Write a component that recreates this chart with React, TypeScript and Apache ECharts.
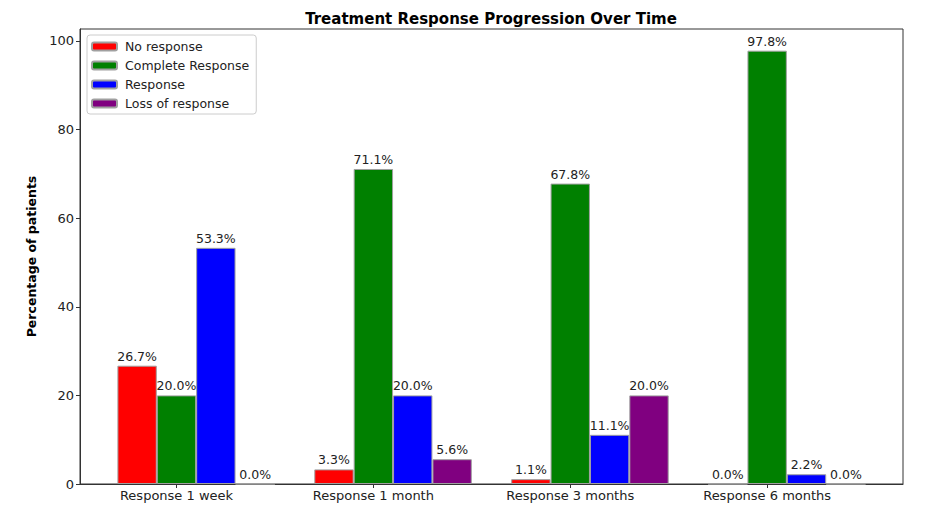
import React, { useEffect, useRef } from "react";
import * as echarts from "echarts";

const categories = ["Response 1 week", "Response 1 month", "Response 3 months", "Response 6 months"];
const seriesNames = ["No response", "Complete Response", "Response", "Loss of response"];
const noResponse = [26.7, 3.3, 1.1, 0.0];
const completeResponse = [20.0, 71.1, 67.8, 97.8];
const response = [53.3, 20.0, 11.1, 2.2];
const lossOfResponse = [0.0, 5.6, 20.0, 0.0];
const colors = ["#ff0000", "#008000", "#0000ff", "#800080"];
const yTicks = [0, 20, 40, 60, 80, 100];
const xTicks = [0, 1, 2, 3];

const FONT = "DejaVu Sans";

export default function App() {
  const ref = useRef<HTMLDivElement>(null);
  useEffect(() => {
    if (!ref.current) return;
    const chart = echarts.init(ref.current, undefined, { renderer: "svg" });
    const allValues = [noResponse, completeResponse, response, lossOfResponse];
    const mk = (name: string, vals: number[], color: string) => ({
      name,
      type: "bar",
      data: vals.map((v, i) => [i, v]),
      barWidth: "20%",
      barGap: "0%",
      itemStyle: { color, borderColor: "#a0a0a0", borderWidth: 1 },
      label: {
        show: true,
        position: "top",
        distance: 3,
        fontFamily: FONT,
        fontSize: 12.5,
        color: "#222",
        formatter: (p: any) => p.value[1].toFixed(1) + "%",
      },
    });
    const series: any[] = [
      { name: "_pad", type: "bar", data: [], barWidth: "20%", barGap: "0%" },
      ...seriesNames.map((n, k) => mk(n, allValues[k], colors[k])),
    ];
    chart.setOption({
      animation: false,
      backgroundColor: "#ffffff",
      title: {
        text: "Treatment Response Progression Over Time",
        left: 486,
        textAlign: "center",
        top: 6,
        textStyle: { fontFamily: FONT, fontSize: 15, fontWeight: "bold", color: "#000" },
      },
      legend: {
        data: seriesNames,
        orient: "vertical",
        left: 87,
        top: 35,
        itemWidth: 25,
        itemHeight: 8,
        itemGap: 6,
        padding: [5, 7, 4, 4],
        borderColor: "#cccccc",
        borderWidth: 1,
        borderRadius: 3,
        backgroundColor: "#ffffff",
        textStyle: { fontFamily: FONT, fontSize: 12.5, color: "#222", padding: [0, 0, 0, 3] },
      },
      grid: {
        left: 80,
        right: 45,
        top: 29,
        bottom: 26,
        show: true,
        borderColor: "#333",
        borderWidth: 1,
        backgroundColor: "transparent",
      },
      xAxis: {
        type: "value",
        min: -0.49,
        max: 3.69,
        splitLine: { show: false },
        axisLine: { show: true, onZero: false, lineStyle: { color: "#333" } },
        axisTick: { show: true, customValues: xTicks, length: 4, lineStyle: { color: "#333" } },
        axisLabel: {
          customValues: xTicks,
          formatter: (v: number) => categories[Math.round(v)] ?? "",
          fontFamily: FONT,
          fontSize: 13,
          color: "#222",
          margin: 5,
        },
      },
      yAxis: {
        type: "value",
        min: 0,
        max: 102.69,
        name: "Percentage of patients",
        nameLocation: "middle",
        nameGap: 38,
        nameTextStyle: { fontFamily: FONT, fontSize: 12.5, fontWeight: "bold", color: "#000" },
        splitLine: { show: false },
        axisLine: { show: true, onZero: false, lineStyle: { color: "#333" } },
        axisTick: { show: true, customValues: yTicks, length: 4, lineStyle: { color: "#333" } },
        axisLabel: {
          customValues: yTicks,
          fontFamily: FONT,
          fontSize: 13,
          color: "#222",
          margin: 6,
        },
      },
      series,
    });
    return () => chart.dispose();
  }, []);
  return (
    <div
      ref={ref}
      style={{ position: "fixed", left: 0, top: 0, width: 948, height: 510, background: "#fff" }}
    />
  );
}
